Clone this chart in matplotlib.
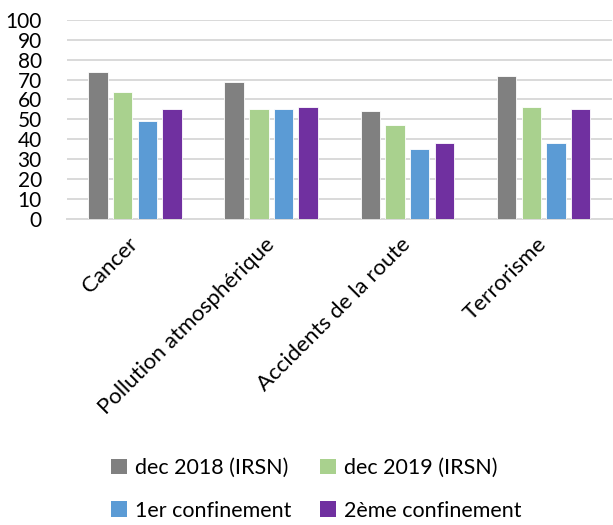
import matplotlib
matplotlib.use('Agg')
import numpy as np
import matplotlib.pyplot as plt
from matplotlib.patches import Patch

plt.rcParams['font.family'] = ['Lato', 'DejaVu Sans']

categories = ["Cancer", "Pollution atmosphérique", "Accidents de la route", "Terrorisme"]
series_names = ["dec 2018 (IRSN)", "dec 2019 (IRSN)", "1er confinement", "2ème confinement"]
dec2018 = [74, 69, 54, 72]
dec2019 = [64, 55, 47, 56]
conf1 = [49, 55, 35, 38]
conf2 = [55, 56, 38, 55]
colors = ["#808080", "#A9D18E", "#5B9BD5", "#7030A0"]

fig = plt.figure(figsize=(6.13, 5.25), dpi=100)
ax = fig.add_axes([0.109, 0.5834, 0.889, 0.3785])

x = np.arange(len(categories))
step = 0.181
width = 0.143
handles = []
for i, vals in enumerate([dec2018, dec2019, conf1, conf2]):
    ax.bar(x + (i - 1.5) * step, vals, width, color=colors[i], edgecolor='white', linewidth=0.6, zorder=3)
    handles.append(Patch(facecolor=colors[i], edgecolor='none'))

ax.set_xlim(-0.5, len(categories) - 0.5)
ax.set_ylim(0, 100)
ax.set_yticks(np.arange(0, 101, 10))
ax.tick_params(axis='y', length=0, pad=18, labelsize=15)
ax.tick_params(axis='x', length=0, pad=16, labelsize=16)
ax.set_xticks(x)
ax.set_xticklabels(categories, rotation=45, ha='right', va='center', rotation_mode='anchor')
ax.grid(axis='y', color='#D9D9D9', linewidth=1.4, zorder=0)
for s in ['top', 'right', 'left']:
    ax.spines[s].set_visible(False)
ax.spines['bottom'].set_color('#D9D9D9')
ax.spines['bottom'].set_linewidth(1.4)

# row-wise legend order: matplotlib fills column by column
order = [0, 2, 1, 3]
fig.legend([handles[k] for k in order], [series_names[k] for k in order],
           loc='lower left', bbox_to_anchor=(0.1746, 0.0), ncol=2, borderaxespad=0,
           borderpad=0.2, frameon=False, fontsize=15.5, handlelength=0.75, handleheight=0.75,
           handletextpad=0.35, columnspacing=1.33, labelspacing=1.05)

fig.savefig('out.png', dpi=100)
